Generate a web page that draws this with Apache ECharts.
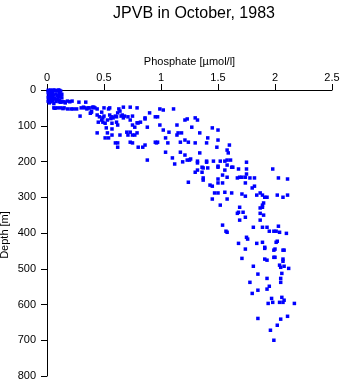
<!DOCTYPE html>
<html><head><meta charset="utf-8">
<script src="https://cdn.jsdelivr.net/npm/echarts/dist/echarts.min.js"></script>
<style>html,body{margin:0;padding:0;background:#fff}#c{width:343px;height:384px}</style>
</head><body><div id="c"></div>
<script>
const chartTitle = 'JPVB in October, 1983';
const xName = 'Phosphate [\u00b5mol/l]';
const yName = 'Depth [m]';
const xTicks = [0, 0.5, 1, 1.5, 2, 2.5];
const yTicks = [0, 100, 200, 300, 400, 500, 600, 700, 800];

// [phosphate, depth] pairs, grouped by depth band
const surface = [[0.01,1],[0.03,0],[0.05,2],[0.07,1],[0.09,2],[0.11,1],[0.12,3],[0.02,3],[0.06,0],[0.10,0],
  [0.01,8],[0.03,10],[0.05,9],[0.08,11],[0.11,10],[0.13,12],[0.02,15],[0.04,17],[0.06,14],[0.09,16],[0.12,18],
  [0.01,20],[0.03,22],[0.05,21],[0.07,23],[0.10,20],[0.13,22],[0.02,26],[0.04,28],[0.06,25],[0.09,27],[0.11,29],
  [0.01,31],[0.03,33],[0.05,30],[0.08,32],[0.12,34],[0.02,36],[0.06,38],[0.15,33],[0.16,36]];
const band30 = [[0.18,31],[0.20,33],[0.22,31],[0.28,34],[0.34,34],[0.13,33],[0.11,33],[0.07,51],
  [0.06,50],[0.09,50],[0.12,50],[0.15,50],[0.14,52],[0.18,53],[0.21,53],[0.23,53],[0.26,53],
  [0.30,50],[0.33,50],[0.37,50],[0.32,48],[0.35,53],[0.36,50],[0.40,48],[0.42,50],[0.44,53],[0.41,48],
  [0.39,59],[0.38,65],[0.39,62],[0.29,73],[0.48,62],[0.50,50],[0.54,53],[0.55,50],[0.63,53],[0.64,59],
  [0.67,48],[0.73,48],[0.79,50]];
const band60 = [[0.44,70],[0.46,75],[0.49,78],[0.48,84],[0.45,90],[0.49,90],[0.53,84],[0.51,93],[0.55,70],
  [0.57,75],[0.58,78],[0.57,93],[0.61,75],[0.62,64],[0.66,70],[0.68,73],[0.67,78],[0.71,75],[0.75,73],
  [0.73,84],[0.61,90],[0.62,98],[0.50,73],[0.56,80],[0.60,73],[0.65,73],[0.79,92],[0.82,90],[0.77,104],
  [0.86,78],[0.88,104],[0.75,98],[0.80,92],[0.90,64],[0.95,75],[0.97,75],[0.99,53],[1.02,56],[1.11,53],
  [0.86,81],[0.99,98],[1.14,98],[1.21,84],[1.23,81],[1.30,78],[1.32,84]];
const band100 = [[0.44,120],[0.53,120],[0.54,134],[0.51,134],[0.57,126],[0.60,148],[0.62,148],[0.62,160],
  [0.64,126],[0.70,118],[0.73,118],[0.75,126],[0.71,126],[0.79,120],[0.75,148],[0.73,146],[0.80,160],
  [0.84,160],[0.86,154],[0.52,106],[0.57,109],[0.77,126],[1.02,112],[0.96,148],[0.95,146],[0.97,146],
  [1.06,148],[1.04,134],[1.07,118],[1.15,120],[1.14,126],[1.18,120],[1.17,146],[1.27,104],[1.21,140],
  [1.24,146],[1.30,148],[1.34,120],[1.40,148],[1.41,134],[1.45,106],[1.50,112],[1.50,140],[1.49,160]];
const band160 = [[0.88,196],[1.58,168],[1.59,176],[1.60,154],[1.58,196],[1.50,216],[1.54,238],
  [1.32,204],[1.32,224],[1.30,230],[1.40,202],[1.41,218],[1.37,218],[1.58,210],[1.63,216],[1.68,221],
  [1.74,244],[1.69,244],[1.67,246],[1.75,235],[1.75,202],[1.21,182],[1.23,196],[1.25,196],[1.17,174],
  [1.10,190],[1.04,174],[1.12,207],[1.37,246],[1.19,201],[1.26,193],[1.34,176],[1.32,199],[1.40,199],
  [1.46,199],[1.52,199],[1.56,199],[1.61,196],[1.36,216],[1.50,213],[1.62,216],[1.75,221],[1.98,221],
  [1.58,244],[1.50,249],[1.71,244],[1.78,246],[1.82,246],[2.03,246],[2.11,249],[1.36,230],[1.56,224]];
const band250 = [[1.24,258],[1.37,252],[1.50,260],[1.54,260],[1.43,266],[1.45,269],[1.74,260],[1.80,274],
  [1.82,269],[1.47,288],[1.50,288],[1.56,286],[1.62,288],[1.71,291],[1.74,297],[1.84,294],[1.87,288],
  [1.89,294],[1.91,300],[1.93,300],[2.02,294],[2.07,300],[2.11,294],[1.45,305],[1.58,305],[1.90,316],
  [1.89,322],[1.52,322],[1.69,328],[1.68,342],[1.67,345],[1.72,342],[1.87,330],[1.89,328],[1.87,345],
  [1.87,364],[1.74,356],[1.69,364],[1.90,350]];
const band350 = [[1.54,378],[1.58,398],[1.57,395],[1.68,429],[1.75,412],[1.76,417],[1.84,429],[1.89,426],
  [1.81,384],[1.89,384],[1.95,395],[1.99,395],[2.01,395],[2.03,381],[2.04,398],[2.10,401],[1.93,384],
  [2.02,423],[1.91,443],[1.91,440],[2.00,445],[2.01,426],[2.07,448],[1.74,445],[1.99,448],[2.08,448],
  [2.00,468],[2.07,473],[1.91,473],[1.93,476],[1.71,471],[2.07,479],[1.99,468],[1.81,493],[2.04,490],
  [2.05,496],[2.08,493],[2.12,499]];
const band500 = [[1.85,515],[2.06,513],[1.93,527],[2.05,527],[2.05,538],[1.78,538],[1.95,549],[1.85,560],
  [1.93,557],[1.80,569],[1.97,583],[1.98,594],[2.06,580],[2.08,588],[2.04,594],[2.07,594],[1.94,597],
  [2.17,597],[1.85,639],[2.05,641],[2.11,633],[2.02,658],[1.96,672],[1.99,700]];

const allPoints = [].concat(surface, band30, band60, band100, band160, band250, band350, band500);

const font = 'Liberation Sans, Arial, sans-serif';
const chart = echarts.init(document.getElementById('c'), null, {renderer: 'canvas'});
chart.setOption({
  animation: false,
  backgroundColor: '#fff',
  title: {
    text: chartTitle, left: 189, top: 1, textAlign: 'center',
    textStyle: {fontFamily: font, fontSize: 16, fontWeight: 'normal', color: '#000'}
  },
  graphic: [{
    type: 'text', x: 5, y: 235, rotation: Math.PI / 2,
    style: {text: yName, fontFamily: font, fontSize: 11, fill: '#000', textAlign: 'center', textVerticalAlign: 'middle'}
  }],
  grid: {left: 47, top: 90, width: 285, height: 286, containLabel: false, outerBoundsMode: 'none'},
  xAxis: {
    type: 'value', position: 'top', min: xTicks[0], max: xTicks[xTicks.length - 1], interval: 0.5,
    name: xName, nameLocation: 'middle', nameGap: 23,
    nameTextStyle: {fontFamily: font, fontSize: 11, color: '#000'},
    axisLine: {show: true, onZero: false, lineStyle: {color: '#000', width: 1}},
    axisTick: {show: true, inside: false, length: 6, lineStyle: {color: '#000'}},
    axisLabel: {fontFamily: font, fontSize: 11, color: '#000', margin: 7},
    splitLine: {show: false}
  },
  yAxis: {
    type: 'value', inverse: true, min: yTicks[0], max: yTicks[yTicks.length - 1], interval: 100,
    axisLine: {show: true, onZero: false, lineStyle: {color: '#000', width: 1}},
    axisTick: {show: true, inside: false, length: 6, lineStyle: {color: '#000'}},
    axisLabel: {fontFamily: font, fontSize: 11, color: '#000', margin: 11},
    splitLine: {show: false}
  },
  series: [{
    type: 'scatter', data: allPoints, symbol: 'rect', symbolSize: 3.5,
    itemStyle: {color: '#0000ff', opacity: 1}
  }]
});
</script></body></html>
